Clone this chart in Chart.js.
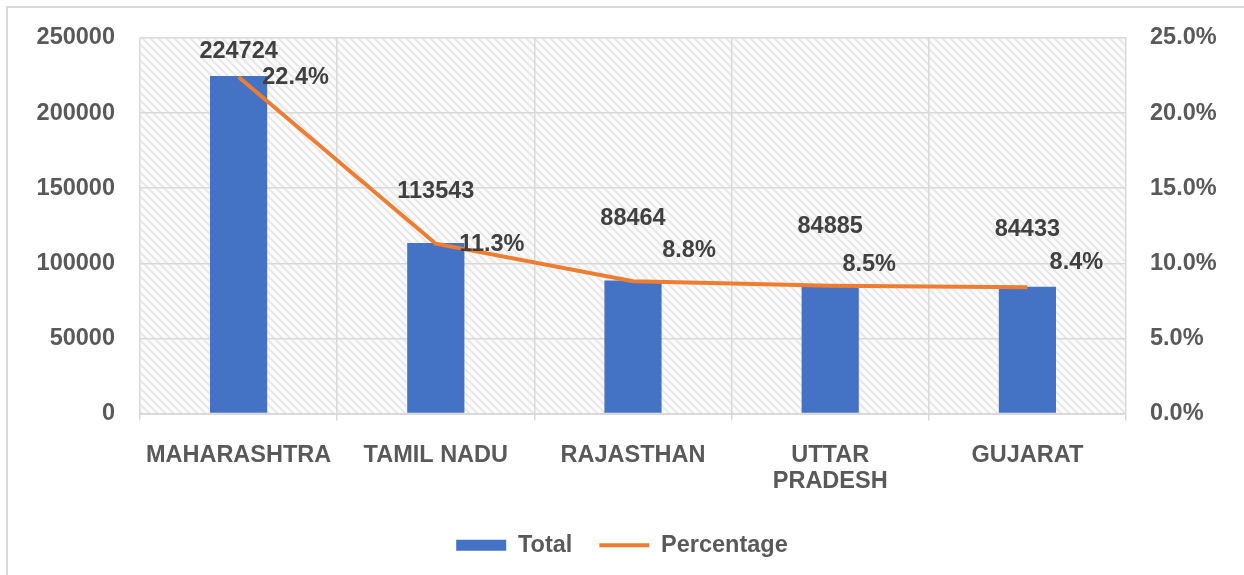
<!DOCTYPE html>
<html>
<head>
  <meta charset="utf-8">
  <script src="https://cdn.jsdelivr.net/npm/chart.js@4"></script>
  <style>
    html, body { margin: 0; padding: 0; background: #fff; }
    .chart-container { position: relative; width: 1244px; height: 575px; }
  </style>
</head>
<body>
  <div class="chart-container">
    <canvas id="stateChart"></canvas>
  </div>

  <script>
    // Data
    const states = ["MAHARASHTRA", "TAMIL NADU", "RAJASTHAN", ["UTTAR", "PRADESH"], "GUJARAT"];
    const totals = [224724, 113543, 88464, 84885, 84433];
    const percentages = [22.4, 11.3, 8.8, 8.5, 8.4];
    const totalTicks = [0, 50000, 100000, 150000, 200000, 250000];
    const percentTicks = [0, 5, 10, 15, 20, 25];

    // where each data label sits relative to its mark (dx, dy)
    const totalLabelShift = [[0, -24], [0, -51], [0, -62], [0, -59], [0, -57]];
    const pctLabelShift = [[57, 1], [56, 1], [56, -31], [39, -21], [49, -25]];

    const fontFamily = "'Liberation Sans', Arial, sans-serif";
    const font = { family: fontFamily, size: 23.5, weight: "bold", lineHeight: 1.1 };
    const tickColor = "#595959";
    const gridColor = "#d9d9d9";

    // hatched plot background
    const tile = document.createElement("canvas");
    tile.width = 8; tile.height = 8;
    const t = tile.getContext("2d");
    t.fillStyle = "#fbfbfb";
    t.fillRect(0, 0, 8, 8);
    t.strokeStyle = "#e8e8e8";
    t.lineWidth = 2;
    t.beginPath();
    t.moveTo(-2, -2); t.lineTo(10, 10);
    t.moveTo(-2, 6); t.lineTo(2, 10);
    t.moveTo(6, -2); t.lineTo(10, 2);
    t.stroke();

    const backdrop = {
      id: "backdrop",
      beforeDraw(chart) {
        const { ctx, chartArea: a } = chart;
        ctx.save();
        ctx.strokeStyle = gridColor;
        ctx.lineWidth = 2;
        ctx.strokeRect(7, 7, 1400, 800);
        ctx.fillStyle = ctx.createPattern(tile, "repeat");
        ctx.fillRect(a.left, a.top, a.right - a.left, a.bottom - a.top);
        ctx.restore();
      }
    };

    const valueLabels = {
      id: "valueLabels",
      afterDatasetsDraw(chart) {
        const ctx = chart.ctx;
        ctx.save();
        ctx.font = "bold 23.5px " + fontFamily;
        ctx.fillStyle = "#404040";
        ctx.textAlign = "center";
        ctx.textBaseline = "middle";
        chart.getDatasetMeta(0).data.forEach((bar, i) => {
          const [dx, dy] = totalLabelShift[i];
          ctx.fillText(String(totals[i]), bar.x + dx, bar.y + dy);
        });
        chart.getDatasetMeta(1).data.forEach((pt, i) => {
          const [dx, dy] = pctLabelShift[i];
          ctx.fillText(percentages[i].toFixed(1) + "%", pt.x + dx, pt.y + dy);
        });
        ctx.restore();
      }
    };

    new Chart(document.getElementById("stateChart"), {
      type: "bar",
      data: {
        labels: states,
        datasets: [
          {
            label: "Total",
            data: totals,
            backgroundColor: "#4472C4",
            categoryPercentage: 1,
            barPercentage: 0.29,
            pointStyle: "rect",
            yAxisID: "y",
            order: 1,
          },
          {
            type: "line",
            label: "Percentage",
            data: percentages,
            borderColor: "#ED7D31",
            backgroundColor: "#ED7D31",
            borderWidth: 4,
            pointRadius: 0,
            tension: 0,
            pointStyle: "line",
            yAxisID: "y1",
            order: 0,
          },
        ],
      },
      options: {
        responsive: true,
        maintainAspectRatio: false,
        animation: false,
        layout: { padding: { top: 37, left: 0, right: 0, bottom: 8 } },
        scales: {
          x: {
            offset: true,
            grid: { offset: true, color: gridColor, lineWidth: 1.5, tickLength: 7 },
            border: { color: gridColor, width: 2 },
            ticks: { font: font, color: tickColor, padding: 22, maxRotation: 0, autoSkip: false },
            afterFit: (scale) => { scale.height = 93; },
          },
          y: {
            position: "left",
            min: 0,
            max: 250000,
            afterBuildTicks: (scale) => { scale.ticks = totalTicks.map(v => ({ value: v })); },
            grid: { color: gridColor, lineWidth: 1.5, drawTicks: false },
            border: { display: false },
            ticks: { font: font, color: tickColor, padding: 25, callback: (v) => String(v) },
            afterFit: (scale) => { scale.width = 140; },
          },
          y1: {
            position: "right",
            min: 0,
            max: 25,
            afterBuildTicks: (scale) => { scale.ticks = percentTicks.map(v => ({ value: v })); },
            grid: { drawOnChartArea: false, drawTicks: false },
            border: { display: false },
            ticks: { font: font, color: tickColor, padding: 24, callback: (v) => v.toFixed(1) + "%" },
            afterFit: (scale) => { scale.width = 118; },
          },
        },
        plugins: {
          legend: {
            position: "bottom",
            labels: {
              font: font,
              color: tickColor,
              usePointStyle: true,
              pointStyleWidth: 50,
              boxWidth: 50,
              boxHeight: 11,
              padding: 27,
              sort: (a, b) => a.datasetIndex - b.datasetIndex,
            },
          },
          tooltip: { enabled: false },
        },
      },
      plugins: [backdrop, valueLabels],
    });
  </script>
</body>
</html>
